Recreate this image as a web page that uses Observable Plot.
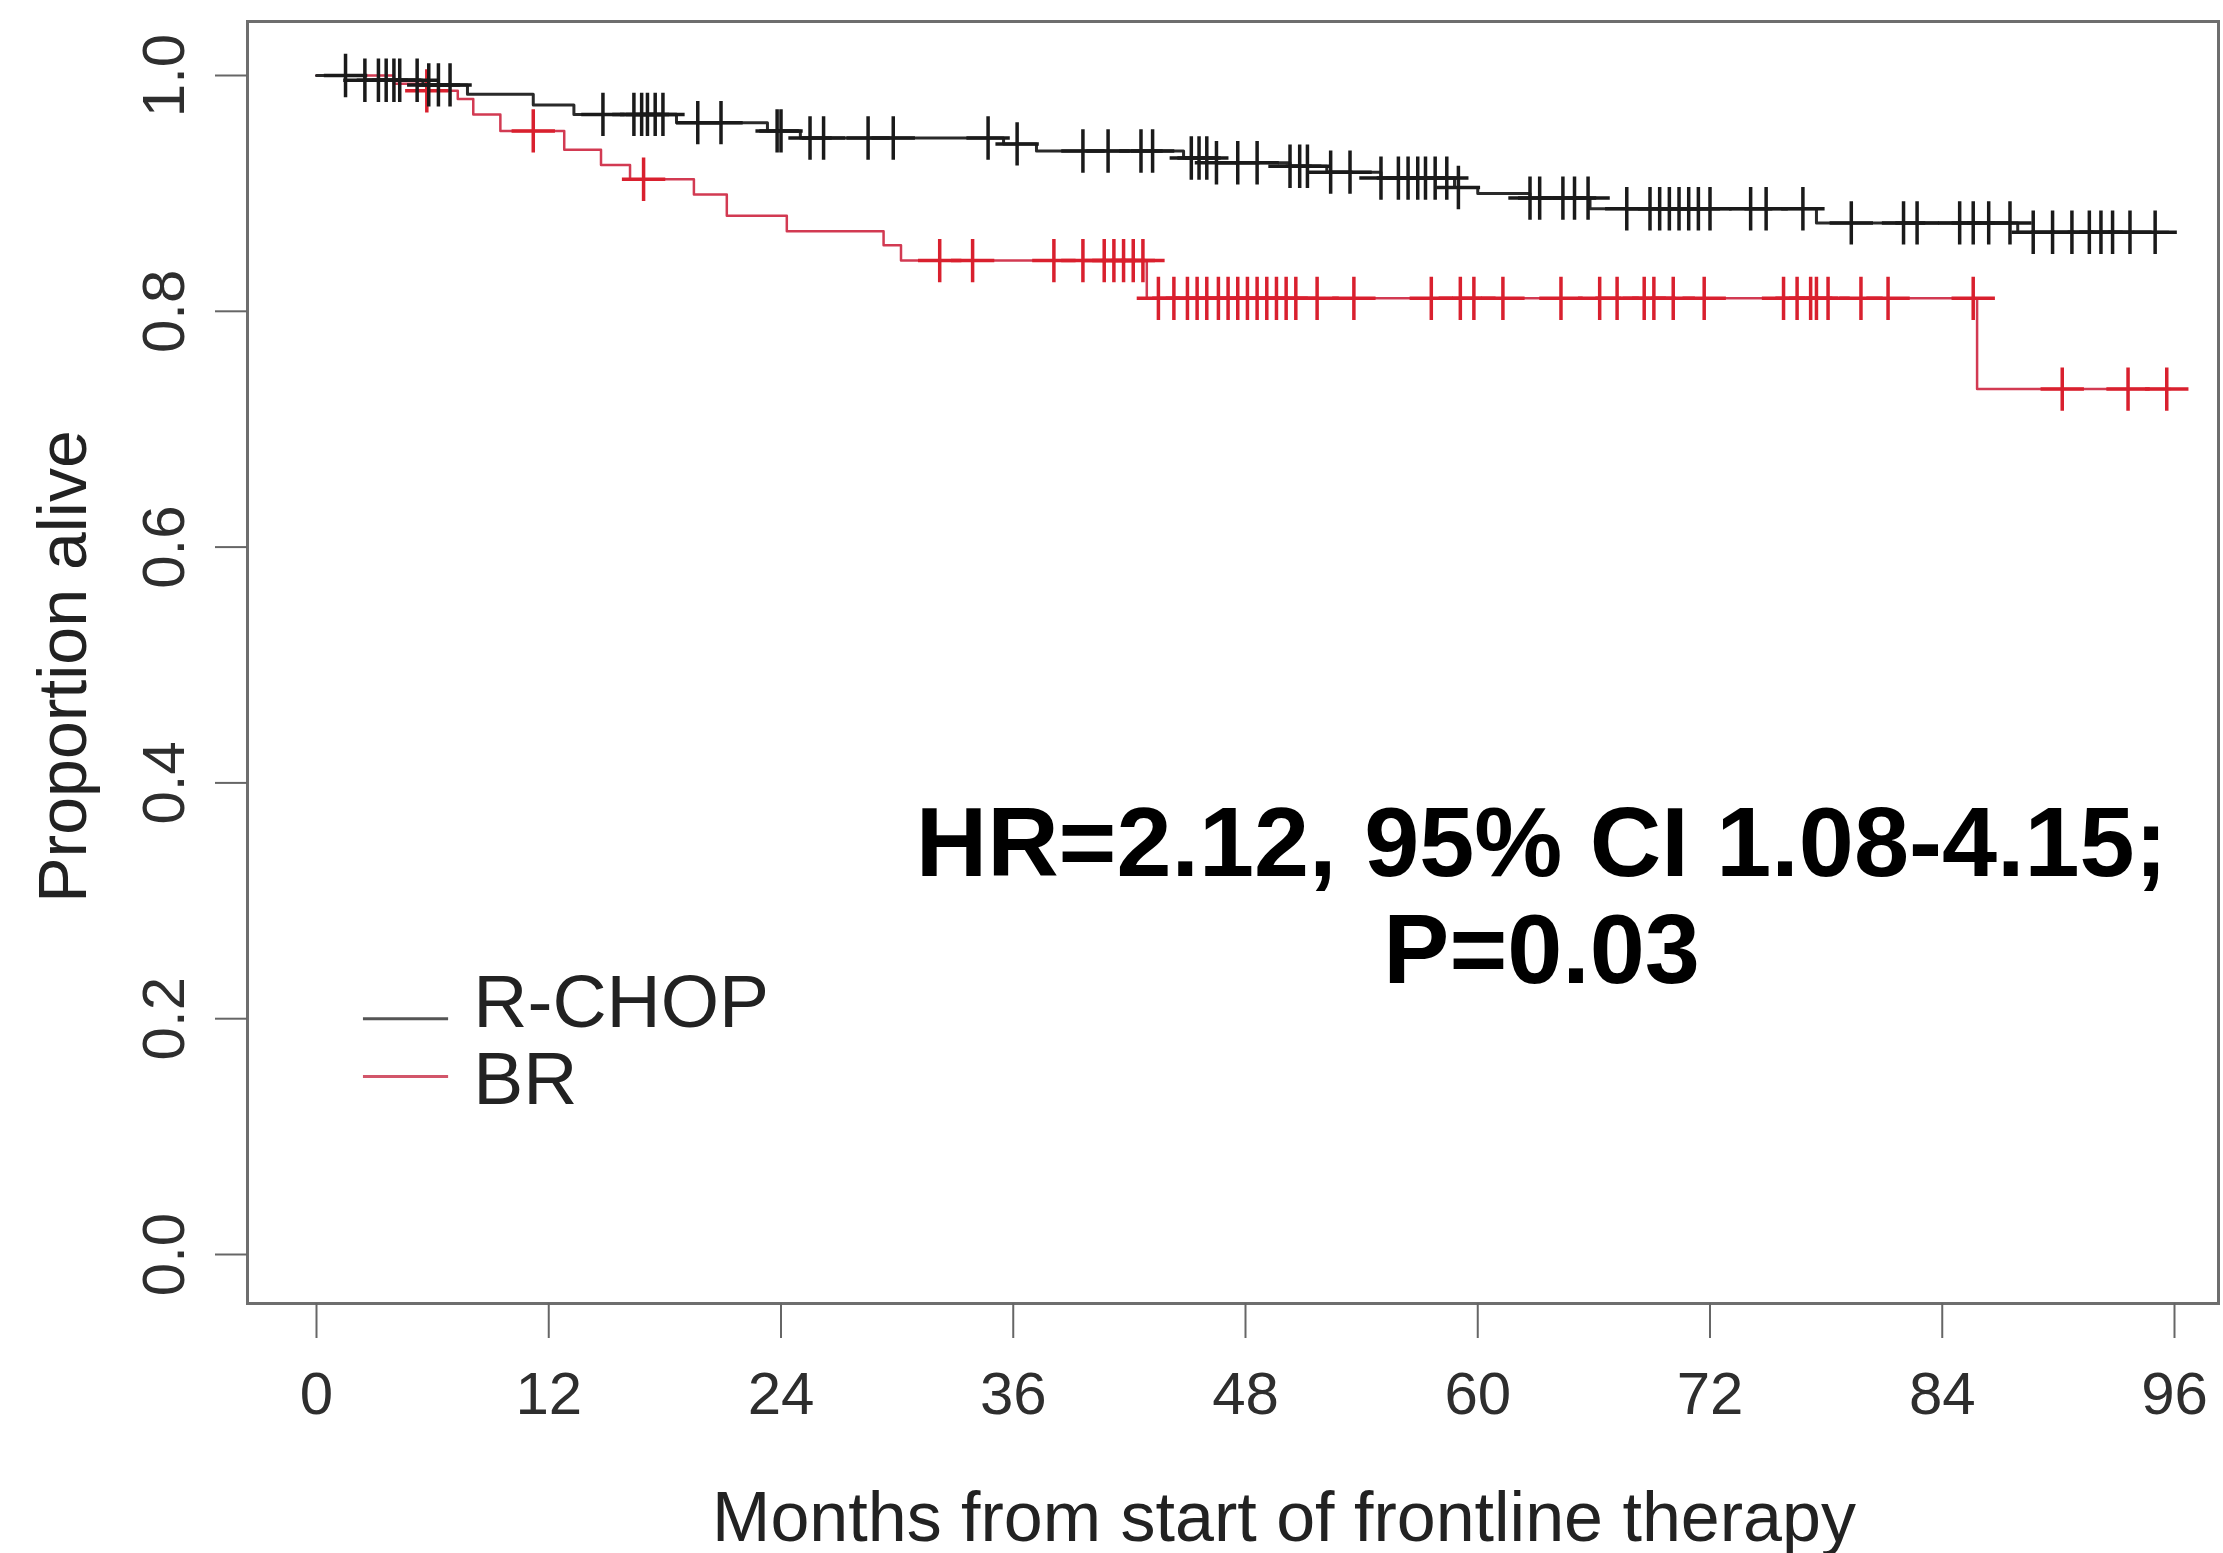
<!DOCTYPE html>
<html>
<head>
<meta charset="utf-8">
<script src="https://cdn.jsdelivr.net/npm/d3@7"></script>
<script src="https://cdn.jsdelivr.net/npm/@observablehq/plot@0.6"></script>
<style>
  html, body { margin: 0; padding: 0; background: #fff; }
  #chart svg { display: block; }
</style>
</head>
<body>
<div id="chart"></div>
<script>
// ---------- data ----------
const groups = ["R-CHOP", "BR"];
const xTicks = [0, 12, 24, 36, 48, 60, 72, 84, 96];
const yTicks = [0, 0.2, 0.4, 0.6, 0.8, 1.0];
const xTitle = "Months from start of frontline therapy";
const yTitle = "Proportion alive";
const hrText = "HR=2.12, 95% CI 1.08-4.15;\nP=0.03";

// Kaplan-Meier step points (time in months, survival) – R-CHOP
const rchopTime = [0, 2.5, 5.5, 7.8, 11.2, 13.3, 18.6, 23.3, 25.0, 35.5, 37.2, 44.8, 46.5, 50.3, 52.2, 55.0, 58.8, 60.0, 62.7, 65.8, 77.5, 87.9, 95.7];
const rchopSurv = [1.0, 0.996, 0.992, 0.984, 0.975, 0.967, 0.960, 0.953, 0.947, 0.942, 0.936, 0.930, 0.926, 0.923, 0.918, 0.913, 0.905, 0.900, 0.896, 0.887, 0.875, 0.867, 0.867];
// censoring times – R-CHOP
const rchopCensor = [1.5, 2.5, 3.2, 3.6, 4.0, 4.3, 5.2, 5.8, 6.3, 6.9,
  14.8, 16.4, 16.8, 17.1, 17.5, 17.9, 19.7, 20.9, 23.8,
  24.0, 25.5, 26.2, 28.5, 29.8, 34.7, 36.2, 39.6, 40.9, 42.6, 43.2, 45.2, 45.6, 46.0, 46.5, 47.6,
  48.6, 50.3, 50.8, 51.2, 52.4, 53.4, 55.0, 55.9, 56.4, 56.9, 57.3, 57.8, 58.4, 59.0,
  62.7, 63.2, 64.4, 65.0, 65.7, 67.7, 68.9, 69.4, 69.9, 70.4, 70.9, 71.4, 72.0,
  74.1, 74.9, 76.8, 79.3, 82.0, 82.7, 84.9, 85.6, 86.4, 87.5, 88.7, 89.7, 90.7, 91.6, 92.2, 92.8, 93.7, 95.0];

// Kaplan-Meier step points – BR
const brTime = [0, 4.0, 5.7, 7.3, 8.1, 9.5, 12.8, 14.7, 16.2, 19.5, 21.2, 24.3, 29.3, 30.2, 42.9, 85.8, 95.8];
const brSurv = [1.0, 0.993, 0.987, 0.980, 0.967, 0.953, 0.937, 0.924, 0.912, 0.899, 0.881, 0.868, 0.856, 0.843, 0.811, 0.734, 0.734];
// censoring times – BR
const brCensor = [5.7, 11.2, 16.9,
  32.2, 33.9, 38.1, 39.6, 40.7, 41.2, 41.7, 42.2, 42.7,
  43.5, 44.3, 45.0, 45.5, 46.0, 46.6, 47.1, 47.6, 48.1, 48.6, 49.1, 49.6, 50.1, 50.6, 51.7, 53.6,
  57.6, 59.1, 59.8, 61.3, 64.3, 66.3, 67.2, 68.6, 69.1, 70.1, 71.7,
  75.8, 76.5, 77.2, 77.5, 78.1, 79.8, 81.2, 85.6, 90.2, 93.6, 95.6];

// ---------- styling ----------
const colors = {"R-CHOP": "#2a2a2a", "BR": "#d23a52"};
const censorColors = {"R-CHOP": "#1a1a1a", "BR": "#d9202e"};
const legendColors = {"R-CHOP": "#555555", "BR": "#d2566a"};
const font = "'Liberation Sans', Arial, Helvetica, sans-serif";

// ---------- build tables ----------
function steps(times, surv, g) { return times.map((t, i) => ({t, s: surv[i], g})); }
function survAt(times, surv, t) {
  let k = 0;
  for (let i = 0; i < times.length; i++) if (times[i] <= t) k = i;
  return surv[k];
}
function censors(ct, times, surv, g) { return ct.map(t => ({t, s: survAt(times, surv, t), g})); }

const rchopSteps = steps(rchopTime, rchopSurv, "R-CHOP");
const brSteps = steps(brTime, brSurv, "BR");
const rchopC = censors(rchopCensor, rchopTime, rchopSurv, "R-CHOP");
const brC = censors(brCensor, brTime, brSurv, "BR");

// legend (placed in data coordinates, like R's legend())
const legendX1 = 2.4, legendX2 = 6.8, legendTextX = 8.1;
const legendLineY = [0.2, 0.151];
const legendTextY = [0.213, 0.148];
const legendRows = groups.map((g, i) => ({g, ly: legendLineY[i], ty: legendTextY[i]}));

const chart = Plot.plot({
  width: 2223,
  height: 1553,
  marginLeft: 247,
  marginRight: 5,
  marginTop: 21,
  marginBottom: 250,
  style: {fontFamily: font, background: "#fff", overflow: "visible"},
  x: {domain: [0, 96], range: [316, 2174]},
  y: {domain: [0, 1], range: [1254, 75]},
  marks: [
    Plot.frame({stroke: "#6e6e6e", strokeWidth: 3}),
    Plot.axisX({ticks: xTicks, label: null, tickSize: 35, tickPadding: 33, fontSize: 60, stroke: "#666", strokeWidth: 2, fill: "#2e2e2e", tickFormat: d => String(d)}),
    Plot.axisY({ticks: yTicks, label: null, tickSize: 32, tickPadding: 32, tickRotate: -90, fontSize: 60, stroke: "#666", strokeWidth: 2, fill: "#2e2e2e", tickFormat: d3.format(".1f")}),
    Plot.text([xTitle], {frameAnchor: "bottom", dx: 51, dy: 237, fontSize: 70, fill: "#222", lineAnchor: "bottom"}),
    Plot.text([yTitle], {frameAnchor: "left", textAnchor: "middle", rotate: -90, dx: -183, dy: 4, fontSize: 68, fill: "#222"}),
    Plot.line(brSteps, {x: "t", y: "s", curve: "step-after", stroke: colors["BR"], strokeWidth: 2.5}),
    Plot.line(rchopSteps, {x: "t", y: "s", curve: "step-after", stroke: colors["R-CHOP"], strokeWidth: 3}),
    Plot.dot(brC, {x: "t", y: "s", symbol: "plus", r: 14, stroke: censorColors["BR"], strokeWidth: 3.5}),
    Plot.dot(rchopC, {x: "t", y: "s", symbol: "plus", r: 14, stroke: censorColors["R-CHOP"], strokeWidth: 3.5}),
    Plot.link(legendRows, {x1: () => legendX1, x2: () => legendX2, y1: "ly", y2: "ly", stroke: d => legendColors[d.g], strokeWidth: 3}),
    Plot.text(legendRows, {x: () => legendTextX, y: "ty", text: "g", textAnchor: "start", fontSize: 75, fill: "#222"}),
    Plot.text([hrText], {x: () => 63.3, y: () => 0.23, text: d => d, textAnchor: "middle", fontSize: 99, fontWeight: "bold", fill: "#000", lineHeight: 1.08, lineAnchor: "bottom"})
  ]
});
document.getElementById("chart").appendChild(chart);
</script>
</body>
</html>
